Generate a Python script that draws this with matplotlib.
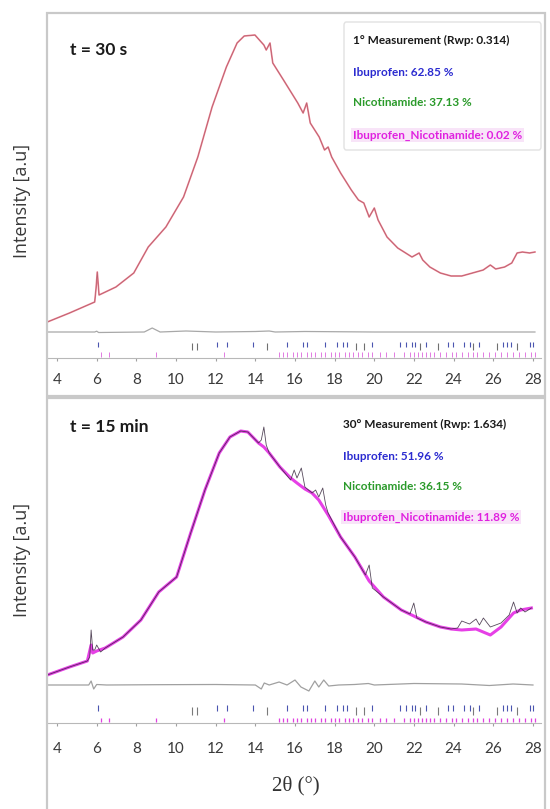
import matplotlib
matplotlib.use("Agg")
import matplotlib.pyplot as plt
from matplotlib.patches import Rectangle, FancyBboxPatch
import numpy as np

# ---------------- data ----------------
# top panel: t = 30 s
top_x = [3.51, 4.63, 5.9, 5.97, 6.03, 6.12, 6.97, 7.87, 8.6, 9.49, 10.38, 11.1, 11.82,
         12.54, 13.08, 13.44, 13.98, 14.43, 14.55, 14.74, 14.88, 15.42, 16.14, 16.41,
         16.59, 16.77, 17.22, 17.49, 17.67, 17.85, 18.3, 18.84, 19.2, 19.47, 19.74,
         20.0, 20.19, 20.64, 21.18, 21.9, 22.26, 22.44, 22.8, 23.33, 23.87, 24.41,
         24.95, 25.49, 25.85, 26.12, 26.57, 26.93, 27.2, 27.47, 27.83, 28.1]
top_obs = [360, 450, 560, 700, 860, 630, 710, 850, 1110, 1310, 1610, 2010, 2510,
           2910, 3150, 3220, 3230, 3130, 3080, 3150, 2950, 2780, 2550, 2450,
           2550, 2350, 2210, 2080, 2110, 2010, 1850, 1680, 1580, 1550, 1410,
           1500, 1380, 1210, 1100, 1010, 1050, 980, 910, 850, 820, 820,
           850, 880, 930, 890, 910, 950, 1050, 1060, 1050, 1060]
top_calc = top_obs
top_diff_x = [3.5, 5.9, 6.0, 6.1, 8.4, 8.8, 9.2, 10.5, 12.0, 14.0, 14.7, 15.0, 16.5, 20.0, 28.1]
top_diff = [0, 0, 8, -5, 0, 40, 0, 10, 0, 5, 10, 0, 5, 0, 0]

# bottom panel: t = 15 min
bot_x = [3.51, 4.63, 5.53, 5.65, 5.72, 5.8, 5.9, 6.0, 6.2, 6.43, 7.33, 8.23, 9.13, 10.03,
         10.74, 11.46, 12.18, 12.72, 13.26, 13.62, 14.16, 14.3, 14.43, 14.55, 14.7, 15.24,
         15.78, 15.96, 16.1, 16.32, 16.5, 16.86, 17.04, 17.2, 17.4, 17.55, 17.67, 18.3,
         19.02, 19.55, 19.74, 19.9, 20.46, 21.36, 21.8, 21.99, 22.15, 22.6, 23.33, 23.87,
         24.2, 24.41, 24.8, 25.13, 25.3, 25.5, 25.85, 26.39, 26.8, 27.02, 27.2, 27.38,
         27.6, 27.92]
bot_obs = [480, 560, 620, 660, 930, 730, 730, 780, 710, 750, 860, 1030, 1310, 1460,
           1900, 2330, 2700, 2860, 2920, 2910, 2800, 2830, 2960, 2780, 2700, 2560,
           2430, 2530, 2450, 2550, 2360, 2300, 2330, 2260, 2350, 2180, 2100, 1860,
           1660, 1480, 1580, 1350, 1260, 1130, 1090, 1200, 1050, 1010, 960, 940,
           950, 1020, 990, 1040, 980, 1050, 960, 1000, 1080, 1210, 1100, 1150,
           1110, 1150]
bot_calc_x = [3.51, 4.63, 5.53, 5.72, 5.8, 6.0, 6.43, 7.33, 8.23, 9.13, 10.03, 10.74,
              11.46, 12.18, 12.72, 13.26, 13.62, 14.16, 14.43, 14.7, 15.24, 15.78, 16.1,
              16.5, 16.86, 17.2, 17.67, 18.3, 19.02, 19.74, 20.46, 21.36, 21.99, 22.6,
              23.33, 23.87, 24.41, 25.13, 25.85, 26.39, 27.02, 27.38, 27.92]
bot_calc = [480, 560, 620, 780, 700, 720, 750, 860, 1030, 1310, 1460, 1900,
            2330, 2700, 2860, 2920, 2910, 2800, 2760, 2700, 2560, 2450, 2400,
            2340, 2300, 2230, 2080, 1860, 1660, 1420, 1260, 1130, 1070, 1010,
            960, 940, 930, 940, 880, 960, 1100, 1130, 1150]
bot_diff_x = [3.5, 5.6, 5.72, 5.85, 6.0, 6.5, 9.0, 12.0, 14.0, 14.3, 14.45, 14.7, 15.2,
              15.6, 16.0, 16.3, 16.7, 17.0, 17.2, 17.45, 17.7, 18.2, 19.0, 19.7, 20.0,
              22.0, 24.4, 25.8, 27.0, 28.0]
bot_diff = [0, 0, 40, -40, 5, 0, 3, 5, 0, -40, 20, 0, 30, 0, 50, -20, -60, 40, -20, 50,
            -10, 0, 5, 15, 0, 15, 10, -5, 10, 0]

# reflection positions of the three phases
ibu_ticks = [6.07, 12.07, 12.57, 13.9, 15.6, 16.4, 16.6, 17.5, 18.1, 18.4, 18.6, 19.9,
             21.3, 21.6, 21.9, 22.05, 22.6, 23.7, 23.97, 24.5, 24.8, 25.3, 26.5, 26.7,
             26.9, 27.85, 28.0]
nic_ticks = [10.8, 11.06, 14.6, 19.1, 19.5, 22.3, 23.2, 25.0, 26.2, 27.2]
co_ticks = [6.2, 6.6, 9.0, 12.4, 15.2, 15.4, 15.6, 15.9, 16.1, 16.3, 16.6, 16.8, 17.0,
            17.3, 17.5, 17.8, 18.0, 18.2, 18.5, 18.7, 18.9, 19.2, 19.4, 19.7, 19.9,
            20.3, 20.6, 21.0, 21.5, 21.8, 22.0, 22.2, 22.4, 22.6, 22.8, 23.0, 23.3,
            23.6, 23.9, 24.1, 24.4, 24.7, 25.0, 25.2, 25.5, 25.8, 26.1, 26.4, 26.7,
            27.0, 27.3, 27.6, 27.9, 28.1]

titles = ["t = 30 s", "t = 15 min"]
legend_top = ["1° Measurement (Rwp: 0.314)", "Ibuprofen: 62.85 %",
              "Nicotinamide: 37.13 %", "Ibuprofen_Nicotinamide: 0.02 %"]
legend_bot = ["30° Measurement (Rwp: 1.634)", "Ibuprofen: 51.96 %",
              "Nicotinamide: 36.15 %", "Ibuprofen_Nicotinamide: 11.89 %"]
xticks = list(range(4, 29, 2))

# ---------------- layout helpers ----------------
W, H = 550, 809
fig = plt.figure(figsize=(W / 100, H / 100), dpi=100)
fig.patch.set_facecolor("white")


def fx(px):
    return px / W


def fy(py):
    return 1 - py / H


XL, XR = 3.5, 28.4
AX_L, AX_R = 47.1, 540.9

# panel frames
for (t, b) in [(13, 396), (398, 815)]:
    fig.add_artist(Rectangle((fx(47), fy(b)), fx(545) - fx(47), fy(t) - fy(b),
                             transform=fig.transFigure, fill=False,
                             ec="#c9c9c9", lw=1.6))


def make_axes(base_px, top_px, ymax, pad):
    ax = fig.add_axes([fx(AX_L), fy(base_px), fx(AX_R) - fx(AX_L), fy(top_px) - fy(base_px)])
    ax.set_xlim(XL, XR)
    ax.set_ylim(0, ymax)
    ax.set_facecolor("none")
    for s in ["top", "left", "right"]:
        ax.spines[s].set_visible(False)
    ax.spines["bottom"].set_color("#b8b8b8")
    ax.spines["bottom"].set_linewidth(0.8)
    ax.set_yticks([])
    ax.set_xticks(xticks)
    ax.tick_params(axis="x", length=2.5, width=0.8, color="#a0a0a0",
                   labelsize=11, labelcolor="#3a3a3a", pad=pad)
    for lab in ax.get_xticklabels():
        lab.set_fontfamily("Lato")
    return ax


def draw_ticks(ax, rows):
    for pos, y0, y1, col, lw in rows:
        ax.vlines(pos, y0, y1, colors=col, lw=lw)


# ---- top panel ----
ax1 = make_axes(358, 13, 3450, 8)
ax1.plot(top_x, top_calc, color="#ec7486", lw=1.2, alpha=0.95, zorder=3)
ax1.plot(top_x, top_obs, color="#4a3a40", lw=0.5, alpha=0.35, zorder=4)
ax1.plot(top_diff_x, np.array(top_diff) + 260, color="#a8a8a8", lw=0.9)
draw_ticks(ax1, [(ibu_ticks, 115, 165, "#4a55b0", 0.8),
                 (nic_ticks, 80, 150, "#707070", 0.8),
                 (co_ticks, 15, 60, "#e27ae2", 0.7)])

# ---- bottom panel ----
ax2 = make_axes(723, 398, 3250, 11)
ax2.plot(bot_calc_x, bot_calc, color="#e535e5", lw=2.2, alpha=0.95, zorder=3)
ax2.plot(bot_x, bot_obs, color="#3a2a40", lw=0.6, alpha=0.85, zorder=4)
ax2.plot(bot_diff_x, np.array(bot_diff) + 380, color="#a0a0a0", lw=0.9)
draw_ticks(ax2, [(ibu_ticks, 120, 180, "#4a55b0", 0.8),
                 (nic_ticks, 80, 160, "#7a7a7a", 0.8),
                 (co_ticks, 10, 55, "#e040e0", 0.9)])

# titles
fig.text(fx(70), fy(50), titles[0], fontsize=12.5, fontweight="bold",
         family="Lato", color="#1a1a1a", va="center", ha="left")
fig.text(fx(70), fy(427), titles[1], fontsize=12.5, fontweight="bold",
         family="Lato", color="#1a1a1a", va="center", ha="left")

# legend box top
fig.add_artist(FancyBboxPatch((fx(344), fy(150)), fx(541) - fx(344), fy(22) - fy(150),
                              boxstyle="round,pad=0,rounding_size=0.004",
                              transform=fig.transFigure, fill=False,
                              ec="#e2e2e2", lw=1.0))

leg_colors = ["#1a1a1a", "#2b2bd0", "#2a9a2a", "#e020e0"]
for i, (txt, y) in enumerate(zip(legend_top, [40, 72, 103, 135])):
    kw = {}
    if i == 3:
        kw["bbox"] = dict(boxstyle="square,pad=0.15", fc="#f8e4f8", ec="none")
    fig.text(fx(353), fy(y), txt, fontsize=8.5, fontweight="bold", family="Lato",
             color=leg_colors[i], va="center", ha="left", **kw)
for i, (txt, y) in enumerate(zip(legend_bot, [424, 456, 486, 517])):
    kw = {}
    if i == 3:
        kw["bbox"] = dict(boxstyle="square,pad=0.15", fc="#f8e4f8", ec="none")
    fig.text(fx(343), fy(y), txt, fontsize=8.5, fontweight="bold", family="Lato",
             color=leg_colors[i], va="center", ha="left", **kw)

# axis labels
fig.text(fx(22), fy(201), "Intensity [a.u]", rotation=90, fontsize=13,
         family="Open Sans", color="#3a3a3a", va="center", ha="center")
fig.text(fx(22), fy(560), "Intensity [a.u]", rotation=90, fontsize=13,
         family="Open Sans", color="#3a3a3a", va="center", ha="center")
fig.text(fx(296), fy(786), "2θ (°)", fontsize=15, family="Liberation Serif",
         color="#333333", va="center", ha="center")

fig.savefig("out.png", dpi=100)
